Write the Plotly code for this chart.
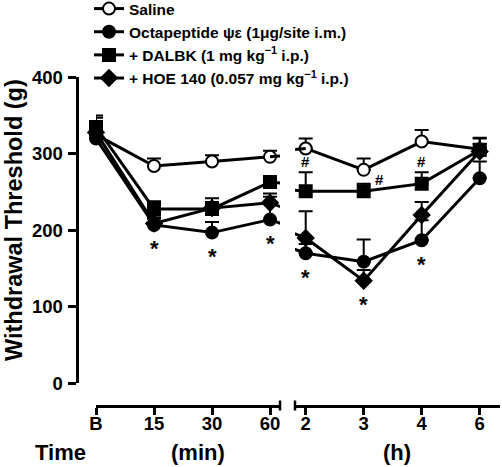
import plotly.graph_objects as go

# ---------------- data ----------------
time_labels = ["B", "15", "30", "60", "2", "3", "4", "6"]
series_names = [
    "Saline",
    "Octapeptide ψε (1μg/site i.m.)",
    "+ DALBK (1 mg kg<sup>−1</sup> i.p.)",
    "+ HOE 140 (0.057 mg kg<sup>−1</sup> i.p.)",
]
saline = [325, 284, 290, 296, 307, 279, 316, 306]
saline_err = [18, 10, 8, 8, 13, 15, 15, 15]
octa = [320, 207, 197, 214, 170, 159, 187, 268]
octa_err = [10, 8, 14, 30, 12, 29, 26, 22]
dalbk = [335, 228, 228, 263, 251, 251, 261, 305]
dalbk_err = [15, 10, 14, 5, 25, 10, 15, 15]
hoe = [328, 209, 229, 236, 190, 134, 220, 303]
hoe_err = [19, 8, 8, 12, 35, 14, 17, 10]

star_idx = [1, 2, 3, 4, 5, 6]      # '*' vs saline
hash_idx = [4, 5, 6]               # '#' vs octapeptide

y_ticks = [0, 100, 200, 300, 400]

# ---------------- layout helpers ----------------
W, H = 502, 467
BREAK_SHIFT = 0.616
N_LEFT = 4


def pos(i):
    return i if i < N_LEFT else i + BREAK_SHIFT


PX_PER_UNIT = 58.0
L0, L1 = 96.0, 280.0      # left x-axis pixel span
R0, R1 = 295.0, 500.0     # right x-axis pixel span
left_range = [0, (L1 - L0) / PX_PER_UNIT]
r_start = pos(4) - (305.7 - R0) / PX_PER_UNIT
right_range = [r_start, r_start + (R1 - R0) / PX_PER_UNIT]

Y_TOP, Y_BOT = 77.3, 383.3
Y_AXIS_X = 76.5
X_AXIS_Y = 405.5

FONT = "Arial, Liberation Sans, sans-serif"

styles = [
    dict(symbol="circle", color="white", size=12),
    dict(symbol="circle", color="black", size=12),
    dict(symbol="square", color="black", size=12),
    dict(symbol="diamond", color="black", size=12),
]

all_vals = [saline, octa, dalbk, hoe]
all_errs = [saline_err, octa_err, dalbk_err, hoe_err]

fig = go.Figure()

for name, vals, errs, st in zip(series_names, all_vals, all_errs, styles):
    marker = dict(symbol=st["symbol"], color=st["color"], size=st["size"],
                  line=dict(color="black", width=2))
    line = dict(color="black", width=3)
    xl = [pos(i) for i in range(N_LEFT)]
    fig.add_trace(go.Scatter(
        x=xl, y=vals[:N_LEFT], xaxis="x", yaxis="y", mode="lines+markers",
        name=name, marker=marker, line=line, cliponaxis=False,
        error_y=dict(type="data", symmetric=False, array=errs[:N_LEFT],
                     arrayminus=[0] * N_LEFT, color="black", thickness=2, width=7),
        showlegend=True))
    xr = [pos(i) for i in range(N_LEFT, len(vals))]
    fig.add_trace(go.Scatter(
        x=xr, y=vals[N_LEFT:], xaxis="x2", yaxis="y", mode="lines+markers",
        name=name, marker=marker, line=line, cliponaxis=False,
        error_y=dict(type="data", symmetric=False, array=errs[N_LEFT:],
                     arrayminus=[0] * (len(vals) - N_LEFT), color="black",
                     thickness=2, width=7),
        showlegend=False))
    bx = [pos(N_LEFT - 1), pos(N_LEFT)]
    by = [vals[N_LEFT - 1], vals[N_LEFT]]
    for xa in ("x", "x2"):
        fig.add_trace(go.Scatter(x=bx, y=by, xaxis=xa, yaxis="y", mode="lines",
                                 line=line, showlegend=False, hoverinfo="skip"))

annotations = []
for i in star_idx:
    lowest = min(v[i] for v in all_vals)
    annotations.append(dict(
        x=pos(i), y=lowest, xref="x" if i < N_LEFT else "x2", yref="y",
        text="*", showarrow=False, yshift=-24, xanchor="center", yanchor="middle",
        font=dict(family=FONT, size=22, color="black", weight="bold")))
for i in hash_idx:
    if i == 5:
        annotations.append(dict(
            x=pos(i), y=saline[i], xref="x2", yref="y", text="#",
            showarrow=False, xshift=16, yshift=-10, xanchor="center", yanchor="middle",
            font=dict(family=FONT, size=15, color="black", weight="bold")))
    else:
        annotations.append(dict(
            x=pos(i), y=dalbk[i] + dalbk_err[i], xref="x2", yref="y", text="#",
            showarrow=False, yshift=11, xanchor="center", yanchor="middle",
            font=dict(family=FONT, size=15, color="black", weight="bold")))

title_font = dict(family=FONT, size=22, color="black", weight="bold")
annotations += [
    dict(x=60 / W, y=(H - 452) / H, text="Time", font=title_font),
    dict(x=197.5 / W, y=(H - 452) / H, text="(min)", font=title_font),
    dict(x=396.5 / W, y=(H - 452) / H, text="(h)", font=title_font),
    dict(x=14 / W, y=(H - 220) / H, text="Withdrawal Threshold (g)", textangle=-90,
         font=dict(family=FONT, size=23.5, color="black", weight="bold")),
]
for a in annotations[-4:]:
    a.update(xref="paper", yref="paper", showarrow=False,
             xanchor="center", yanchor="middle")

shapes = []
for xp in (L1, R0):
    shapes.append(dict(type="line", xref="paper", yref="paper",
                       x0=xp / W, x1=xp / W,
                       y0=(H - X_AXIS_Y - 5) / H, y1=(H - X_AXIS_Y + 5) / H,
                       line=dict(color="black", width=2.5)))

tick_font = dict(family=FONT, size=18.5, color="black", weight="bold")
xa_common = dict(showline=True, linecolor="black", linewidth=3, ticks="outside",
                 ticklen=7, tickwidth=2.5, tickcolor="black", showgrid=False,
                 zeroline=False, tickfont=tick_font, anchor="free",
                 position=(H - X_AXIS_Y) / H, fixedrange=True, automargin=False,
                 ticklabelstandoff=-7)

fig.update_layout(
    width=W, height=H,
    margin=dict(l=0, r=0, t=0, b=0, pad=0, autoexpand=False),
    paper_bgcolor="white", plot_bgcolor="white",
    font=dict(family=FONT, color="black"),
    xaxis=dict(domain=[L0 / W, L1 / W], range=left_range,
               tickvals=[pos(i) for i in range(N_LEFT)],
               ticktext=time_labels[:N_LEFT], **xa_common),
    xaxis2=dict(domain=[R0 / W, R1 / W], range=right_range,
                tickvals=[pos(i) for i in range(N_LEFT, len(time_labels))],
                ticktext=time_labels[N_LEFT:], **xa_common),
    yaxis=dict(domain=[(H - Y_BOT) / H, (H - Y_TOP) / H], range=[0, 400],
               tickvals=y_ticks, showline=True, linecolor="black", linewidth=3,
               ticks="outside", ticklen=8, tickwidth=2.5, tickcolor="black",
               showgrid=False, zeroline=False, tickfont=tick_font,
               anchor="free", position=Y_AXIS_X / W, fixedrange=True,
               automargin=False, ticklabelstandoff=1),
    legend=dict(x=89 / W, y=1 + 8 / H, xanchor="left", yanchor="top",
                bgcolor="rgba(0,0,0,0)", borderwidth=0,
                font=dict(family=FONT, size=15.5, color="black", weight="bold"),
                tracegroupgap=0, itemwidth=30),
    annotations=annotations,
    shapes=shapes,
    showlegend=True,
)

fig.write_html("out.html", config={"displayModeBar": False},
               post_script="document.body.style.margin='0';")
